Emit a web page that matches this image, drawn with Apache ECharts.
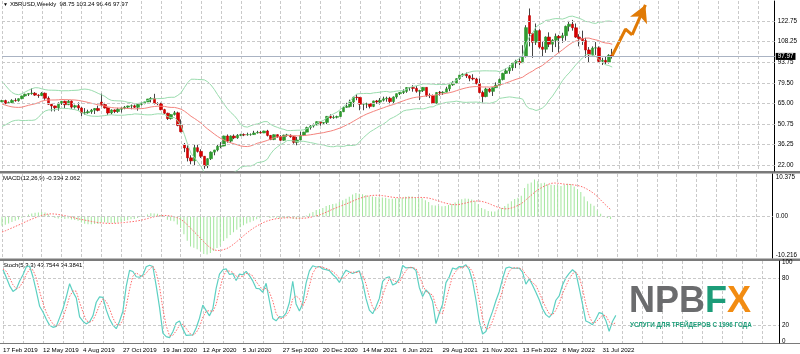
<!DOCTYPE html>
<html>
<head>
<meta charset="utf-8">
<script src="https://cdn.jsdelivr.net/npm/echarts@6/dist/echarts.min.js"></script>
<style>
html, body { margin: 0; padding: 0; background: #fff; }
#chart { width: 800px; height: 354px; }
</style>
</head>
<body>
<div id="chart"></div>
<script>
// weekly closes before the first visible bar, only used to warm up MA / bands / MACD / stoch
const historyCloses = [
  67.6, 69.9, 68.6, 70.5, 68.6, 62.8, 64.8, 67.3, 64.4, 65.5, 66.2, 70.5, 70.3, 67.1, 72.6,
  74.1, 74.6, 74.9, 77.1, 78.5, 76.4, 76.8, 76.5, 73.4, 75.6, 79.4, 77.1, 75.3, 73.1, 74.3,
  73.2, 72.8, 71.8, 75.8, 77.4, 76.8, 78.1, 78.8, 82.7, 84.2, 80.4, 79.8, 77.6, 72.8, 70.2,
  66.8, 58.8, 58.7, 61.7, 60.3, 53.8, 52.2, 57.1, 60.5, 62.7, 61.6, 62.8, 62.1, 66.3
];

// weekly bars from 17 Feb 2019: [open, close, low, high]
const bars = [
  [66.3, 67.1, 65.9, 67.6], [67.1, 65.1, 64.5, 67.7], [65.1, 65.7, 64.8, 66.4], [65.7, 67.2, 65.3, 68.0],
  [67.2, 67.0, 66.3, 68.7], [67.0, 68.4, 66.3, 68.6], [68.4, 70.3, 68.0, 70.5], [70.3, 71.5, 69.8, 71.9],
  [71.5, 72.0, 70.3, 72.2], [72.0, 72.2, 71.2, 75.6], [72.2, 70.9, 70.4, 73.0], [70.9, 70.6, 69.0, 71.5],
  [70.6, 72.2, 70.2, 73.0], [72.2, 68.7, 67.6, 72.7], [68.7, 64.5, 64.1, 70.0], [64.5, 63.3, 59.5, 64.6],
  [63.3, 62.0, 59.5, 63.5], [62.0, 65.2, 60.0, 65.8], [65.2, 66.6, 64.0, 66.8], [66.6, 64.2, 61.9, 67.0],
  [64.2, 66.7, 63.9, 67.5], [66.7, 62.5, 61.3, 67.2], [62.5, 63.5, 61.5, 64.2], [63.5, 61.9, 60.1, 65.8],
  [61.9, 58.5, 56.2, 62.5], [58.5, 58.6, 57.2, 61.8], [58.6, 59.3, 57.9, 60.7], [59.3, 60.4, 57.8, 61.2],
  [60.4, 61.5, 57.7, 61.8], [61.5, 60.2, 59.5, 63.5], [66.0, 64.3, 63.0, 71.9], [64.3, 61.9, 61.5, 65.5],
  [61.9, 58.4, 57.1, 62.2], [58.4, 60.5, 57.5, 60.9], [60.5, 59.4, 58.3, 60.9], [59.4, 61.0, 58.5, 62.0],
  [61.0, 61.7, 58.7, 62.3], [61.7, 62.5, 61.0, 63.3], [62.5, 63.3, 61.6, 63.5], [63.3, 63.4, 61.0, 64.3],
  [63.4, 62.4, 61.9, 64.3], [62.4, 64.4, 60.0, 64.6], [64.4, 65.2, 63.6, 65.6], [65.2, 66.1, 64.5, 66.4],
  [66.1, 68.2, 66.0, 68.2], [68.2, 68.6, 65.8, 69.5], [68.6, 65.0, 64.4, 71.8], [65.0, 64.9, 63.9, 65.9],
  [64.9, 60.7, 60.3, 65.6], [60.7, 58.2, 57.7, 61.3], [58.2, 54.5, 53.5, 58.6], [54.5, 57.3, 53.8, 57.5],
  [57.3, 58.5, 56.6, 59.8], [58.5, 49.7, 49.1, 59.3], [49.7, 45.3, 44.8, 53.9], [36.0, 33.9, 31.0, 37.4],
  [33.9, 27.0, 24.5, 35.8], [27.0, 24.9, 22.5, 28.8], [24.9, 34.1, 21.7, 36.3], [34.1, 31.5, 30.7, 36.2],
  [31.5, 28.1, 26.9, 33.0], [28.1, 21.4, 19.3, 28.3], [21.4, 26.4, 19.8, 26.7], [26.4, 31.0, 25.5, 31.5],
  [31.0, 32.5, 28.8, 32.6], [32.5, 35.1, 31.5, 36.4], [35.1, 35.3, 33.7, 38.0], [35.3, 42.3, 35.1, 42.5],
  [42.3, 38.7, 37.6, 43.4], [38.7, 42.2, 37.5, 42.7], [42.2, 41.0, 40.1, 43.4], [41.0, 42.8, 40.3, 43.6],
  [42.8, 43.2, 42.2, 43.8], [43.2, 43.1, 42.2, 44.1], [43.1, 43.3, 42.5, 44.6], [43.3, 43.3, 42.5, 44.1],
  [43.3, 44.4, 43.1, 45.9], [44.4, 44.8, 44.0, 45.9], [44.8, 44.4, 44.0, 45.9], [44.4, 45.8, 44.3, 46.0],
  [45.8, 42.7, 42.0, 46.6], [42.7, 39.8, 39.4, 43.0], [39.8, 43.2, 39.4, 43.4], [43.2, 41.9, 40.9, 43.4],
  [41.9, 39.3, 38.9, 42.9], [39.3, 42.9, 39.0, 43.2], [42.9, 42.9, 41.8, 43.8], [42.9, 41.8, 41.1, 43.4],
  [41.8, 37.9, 36.9, 42.1], [37.9, 39.5, 35.8, 41.6], [39.5, 42.8, 39.2, 45.3], [42.8, 45.0, 42.3, 45.2],
  [45.0, 48.2, 44.9, 48.8], [48.2, 49.3, 46.8, 49.9], [49.3, 50.0, 48.2, 51.0], [50.0, 52.3, 49.8, 52.5],
  [52.3, 51.3, 49.5, 52.3], [51.3, 51.8, 50.3, 51.9], [51.8, 56.0, 50.6, 56.3], [56.0, 55.1, 54.4, 57.4],
  [55.1, 55.4, 54.3, 56.7], [55.4, 55.9, 54.6, 56.5], [55.9, 59.3, 55.6, 59.8], [59.3, 62.4, 59.0, 62.8],
  [62.4, 62.9, 62.0, 65.5], [62.9, 66.1, 62.3, 67.7], [66.1, 69.4, 62.5, 69.8], [69.4, 69.2, 67.3, 71.4],
  [69.2, 64.5, 60.3, 69.6], [64.5, 64.6, 60.3, 65.5], [64.6, 64.9, 61.8, 65.6], [64.9, 63.0, 61.6, 65.0],
  [63.0, 66.8, 62.5, 67.0], [66.8, 66.1, 64.8, 67.5], [66.1, 67.3, 64.3, 68.8], [67.3, 68.3, 66.4, 69.8],
  [68.3, 68.7, 66.3, 69.8], [68.7, 66.4, 64.5, 69.7], [66.4, 69.6, 65.2, 70.0], [69.6, 71.9, 68.4, 72.0],
  [71.9, 72.7, 70.9, 73.0], [72.7, 73.5, 71.7, 74.9], [73.5, 76.2, 72.5, 76.4], [76.2, 76.2, 74.0, 76.5],
  [76.2, 75.6, 73.3, 77.8], [75.6, 73.6, 72.6, 77.2], [73.6, 74.1, 67.4, 74.6], [74.1, 76.3, 73.1, 76.5],
  [76.3, 70.7, 69.7, 76.3], [70.7, 70.6, 68.8, 72.1], [70.6, 65.2, 64.6, 71.3], [65.2, 72.7, 65.0, 72.9],
  [72.7, 72.6, 70.5, 73.8], [72.6, 72.9, 71.0, 73.6], [72.9, 75.3, 72.9, 76.7], [75.3, 78.1, 73.6, 78.2],
  [78.1, 79.3, 77.4, 80.8], [79.3, 82.4, 79.3, 82.6], [82.4, 84.9, 81.6, 85.1], [84.9, 85.5, 83.8, 86.1],
  [85.5, 84.4, 82.9, 86.7], [84.4, 82.7, 80.6, 85.0], [82.7, 82.2, 81.2, 85.5], [82.2, 78.9, 78.4, 83.0],
  [78.9, 72.7, 72.2, 82.5], [72.7, 69.9, 65.7, 74.0], [69.9, 75.2, 69.4, 76.1], [75.2, 73.5, 72.6, 75.9],
  [73.5, 76.1, 70.3, 76.3], [76.1, 77.8, 75.9, 79.8], [77.8, 81.8, 77.8, 82.5], [81.8, 86.1, 81.2, 86.5],
  [86.1, 87.9, 85.7, 89.5], [87.9, 90.0, 85.8, 91.7], [90.0, 93.3, 87.9, 93.7], [93.3, 94.4, 89.8, 95.6],
  [94.4, 93.5, 91.8, 97.0], [93.5, 97.9, 93.4, 105.8], [97.9, 118.1, 97.2, 119.8], [126.5, 114.0, 105.0, 131.5],
  [114.0, 107.9, 97.0, 114.5], [107.9, 116.0, 106.0, 121.0], [116.0, 104.5, 103.5, 117.0], [104.5, 103.0, 98.0, 108.5],
  [103.0, 111.5, 100.5, 112.0], [111.5, 106.5, 104.5, 114.8], [106.5, 109.3, 101.0, 110.0], [109.3, 112.0, 104.5, 114.0],
  [112.0, 111.0, 100.5, 113.0], [111.0, 112.5, 107.5, 114.5], [112.5, 119.0, 109.0, 119.5], [119.0, 120.5, 115.5, 122.8],
  [120.5, 118.0, 116.0, 123.5], [118.0, 111.5, 111.0, 121.0], [111.5, 110.5, 105.0, 113.5], [110.5, 109.0, 106.0, 116.0],
  [109.0, 102.5, 97.0, 111.0], [102.5, 99.0, 93.5, 104.5], [99.0, 103.8, 98.5, 105.0], [103.8, 104.0, 99.0, 108.0],
  [104.0, 94.5, 93.8, 105.0], [94.5, 95.2, 92.0, 97.0], [95.2, 94.0, 92.5, 98.0], [94.0, 98.75, 93.0, 99.5],
  [98.75, 97.97, 96.46, 103.24]
];

const dateLabels = [
  '17 Feb 2019', '12 May 2019', '4 Aug 2019', '27 Oct 2019', '19 Jan 2020', '12 Apr 2020',
  '5 Jul 2020', '27 Sep 2020', '20 Dec 2020', '14 Mar 2021', '6 Jun 2021', '29 Aug 2021',
  '21 Nov 2021', '13 Feb 2022', '8 May 2022', '31 Jul 2022'
];
const priceTicks = [22.00, 36.25, 50.75, 65.00, 79.50, 93.75, 108.25, 122.75];
const macdTicks = [-10.216, 0, 10.375];
const stochTicks = [0, 20, 80, 100];
const stochLevels = [20, 80];
// hand-drawn forecast arrow, [bar index, price]
const arrowPath = [[184, 98.5], [188, 117], [190, 113], [194, 134]];

const totalSlots = 234; // bars + empty space on the right
const FONT = 'Liberation Sans';

const cats = [];
const t0 = Date.UTC(2019, 1, 17);
for (let i = 0; i < totalSlots; i++) {
  cats.push(new Date(t0 + i * 7 * 864e5).toISOString().slice(0, 10));
}

// indicators
const closes = bars.map(b => b[1]);
const all = historyCloses.concat(closes);
const allHigh = historyCloses.concat(bars.map(b => b[3]));
const allLow = historyCloses.concat(bars.map(b => b[2]));
const off = historyCloses.length;

const bbMid = [], bbUp = [], bbLow = [];
for (let i = 0; i < bars.length; i++) {
  const j = off + i;
  let s = 0;
  for (let k = j - 19; k <= j; k++) s += all[k];
  const m = s / 20;
  let v = 0;
  for (let k = j - 19; k <= j; k++) v += (all[k] - m) * (all[k] - m);
  const sd = Math.sqrt(v / 20);
  bbMid.push(+m.toFixed(3));
  bbUp.push(+(m + 2 * sd).toFixed(3));
  bbLow.push(+(m - 2 * sd).toFixed(3));
}

function ema(arr, n) {
  const a = 2 / (n + 1);
  const out = [arr[0]];
  for (let i = 1; i < arr.length; i++) out.push(out[i - 1] + a * (arr[i] - out[i - 1]));
  return out;
}
const e12 = ema(all, 12), e26 = ema(all, 26);
const macdAll = all.map((c, i) => e12[i] - e26[i]);
const macdMain = [], macdSignal = [];
for (let i = 0; i < bars.length; i++) {
  const j = off + i;
  macdMain.push(+macdAll[j].toFixed(3));
  let s = 0;
  for (let k = j - 8; k <= j; k++) s += macdAll[k];
  macdSignal.push(+(s / 9).toFixed(3));
}

// stochastic 5,3,3 over history + visible bars
const kAll = [];
for (let j = 6; j < all.length; j++) {
  let num = 0, den = 0;
  for (let k = j - 2; k <= j; k++) {
    let hh = -Infinity, ll = Infinity;
    for (let q = k - 4; q <= k; q++) {
      hh = Math.max(hh, allHigh[q]);
      ll = Math.min(ll, allLow[q]);
    }
    num += all[k] - ll;
    den += hh - ll;
  }
  kAll[j] = den ? num / den * 100 : 50;
}
const stochMain = [], stochSignal = [];
for (let i = 0; i < bars.length; i++) {
  const j = off + i;
  stochMain.push(+kAll[j].toFixed(2));
  stochSignal.push(+((kAll[j] + kAll[j - 1] + kAll[j - 2]) / 3).toFixed(2));
}

const lastClose = closes[closes.length - 1];
const bodies = bars.map(b => [b[0], b[1], Math.min(b[0], b[1]), Math.max(b[0], b[1])]);

const dash = { color: '#c9c9c9', width: 1, type: [3, 2] };

function xAxisFor(gridIndex, withLabels) {
  return {
    type: 'category', gridIndex, data: cats, boundaryGap: false,
    axisLine: { show: false }, axisTick: { show: false },
    axisLabel: withLabels ? {
      show: true, interval: 11, align: 'left', margin: 4,
      fontFamily: FONT, fontSize: 6.2, color: '#000',
      formatter: (v, idx) => dateLabels[idx / 12] || ''
    } : { show: false },
    splitLine: { show: true, interval: 5, lineStyle: dash }
  };
}

function yAxisFor(gridIndex, min, max, ticks, fmt) {
  return {
    type: 'value', gridIndex, position: 'right', min, max, scale: true,
    axisLine: { show: true, lineStyle: { color: '#000', width: 1 } },
    axisTick: { show: false },
    splitLine: { show: false },
    axisLabel: {
      show: true, customValues: ticks, margin: 3,
      fontFamily: FONT, fontSize: 6.3, color: '#000', formatter: fmt
    }
  };
}

const option = {
  animation: false,
  backgroundColor: '#fff',
  grid: [
    { left: 2, right: 21, top: 1, height: 170 },
    { left: 2, right: 21, top: 174, height: 84 },
    { left: 2, right: 21, top: 261, height: 82 }
  ],
  xAxis: [xAxisFor(0, false), xAxisFor(1, false), xAxisFor(2, true)],
  yAxis: [
    yAxisFor(0, 17.8, 136.74, priceTicks, v => v.toFixed(2)),
    yAxisFor(1, -10.9, 11.16, macdTicks, v => (v === 0 ? '0.00' : String(v))),
    yAxisFor(2, -2.5, 102, stochTicks, v => String(v))
  ],
  series: [
    {
      name: 'bbUp', type: 'line', xAxisIndex: 0, yAxisIndex: 0, data: bbUp,
      showSymbol: false, silent: true, lineStyle: { color: '#9adcae', width: 1 }
    },
    {
      name: 'bbLow', type: 'line', xAxisIndex: 0, yAxisIndex: 0, data: bbLow,
      showSymbol: false, silent: true, lineStyle: { color: '#9adcae', width: 1 }
    },
    {
      name: 'ma', type: 'line', xAxisIndex: 0, yAxisIndex: 0, data: bbMid,
      showSymbol: false, silent: true, lineStyle: { color: '#f4837d', width: 1 }
    },
    {
      name: 'wicks', type: 'candlestick', xAxisIndex: 0, yAxisIndex: 0, data: bars,
      barWidth: 1, silent: true,
      itemStyle: { color: '#444', color0: '#444', borderColor: '#444', borderColor0: '#444', borderWidth: 1 }
    },
    {
      name: 'bodies', type: 'candlestick', xAxisIndex: 0, yAxisIndex: 0, data: bodies,
      barWidth: 3, silent: true,
      itemStyle: { color: '#2f9a2f', color0: '#d80000', borderColor: '#2f9a2f', borderColor0: '#c00000', borderWidth: 0.6 },
      markLine: {
        silent: true, symbol: ['none', 'none'], animation: false,
        label: { show: false },
        data: priceTicks.map(v => ({ yAxis: v, lineStyle: dash })).concat([{
          yAxis: lastClose,
          lineStyle: { color: '#aab3c3', width: 1, type: 'solid' },
          label: {
            show: true, position: 'end', distance: 1, formatter: lastClose.toFixed(2),
            backgroundColor: '#000', color: '#fff', padding: [1, 2, 0, 2],
            fontFamily: FONT, fontSize: 6.3
          }
        }])
      }
    },
    {
      name: 'arrow', type: 'line', xAxisIndex: 0, yAxisIndex: 0, data: arrowPath.slice(0, 3),
      showSymbol: false, silent: true, lineStyle: { color: '#e07a06', width: 3 },
      markLine: {
        silent: true, symbol: ['none', 'arrow'], symbolSize: [14, 17], animation: false,
        label: { show: false },
        lineStyle: { color: '#e07a06', width: 3, type: 'solid' },
        data: [[{ coord: arrowPath[2] }, { coord: arrowPath[3] }]]
      }
    },
    {
      name: 'macd', type: 'bar', xAxisIndex: 1, yAxisIndex: 1, data: macdMain,
      barWidth: 1, silent: true, itemStyle: { color: '#a3e69d' },
      markLine: {
        silent: true, symbol: ['none', 'none'], animation: false, label: { show: false },
        data: [{ yAxis: 0, lineStyle: dash }]
      }
    },
    {
      name: 'macdSignal', type: 'line', xAxisIndex: 1, yAxisIndex: 1, data: macdSignal,
      showSymbol: false, silent: true, lineStyle: { color: '#ff6a6a', width: 1, type: [1.5, 1.5] }
    },
    {
      name: 'stoch', type: 'line', xAxisIndex: 2, yAxisIndex: 2, data: stochMain,
      showSymbol: false, silent: true, lineStyle: { color: '#5dd0c2', width: 1.2 },
      markLine: {
        silent: true, symbol: ['none', 'none'], animation: false, label: { show: false },
        data: stochLevels.map(v => ({ yAxis: v, lineStyle: dash }))
      }
    },
    {
      name: 'stochSignal', type: 'line', xAxisIndex: 2, yAxisIndex: 2, data: stochSignal,
      showSymbol: false, silent: true, lineStyle: { color: '#ff6a6a', width: 1, type: [1.5, 1.5] }
    }
  ],
  graphic: [
    { type: 'rect', left: 0, top: 171, shape: { width: 800, height: 2.5 }, style: { fill: '#7a7a7a' }, silent: true },
    { type: 'rect', left: 0, top: 258.5, shape: { width: 800, height: 2.5 }, style: { fill: '#7a7a7a' }, silent: true },
    { type: 'rect', left: 0, top: 343, shape: { width: 800, height: 1 }, style: { fill: '#7a7a7a' }, silent: true },
    { type: 'text', left: 3, top: 2, style: { text: '▼', fontSize: 5, fill: '#000', fontFamily: FONT } },
    { type: 'text', left: 10, top: 1.5, style: { text: 'XBRUSD,Weekly  98.75 103.24 96.46 97.97', fontSize: 6, fill: '#000', fontFamily: FONT } },
    { type: 'text', left: 3, top: 175.5, style: { text: 'MACD(12,26,9) -0.334 2.062', fontSize: 6, fill: '#000', fontFamily: FONT } },
    { type: 'text', left: 3, top: 262.5, style: { text: 'Stoch(5,3,3) 43.7544 34.3841', fontSize: 6, fill: '#000', fontFamily: FONT } },
    {
      type: 'text', left: 629, top: 284, z: 50,
      style: {
        text: '{a|NPB}{b|F}{c|X}',
        rich: {
          a: { fontSize: 36, fontWeight: 'bold', fontFamily: FONT, fill: '#6b6c6e' },
          b: { fontSize: 36, fontWeight: 'bold', fontFamily: FONT, fill: '#1c9c78' },
          c: { fontSize: 36, fontWeight: 'bold', fontFamily: FONT, fill: '#f28c12' }
        }
      }
    },
    {
      type: 'text', left: 630, top: 322, z: 50,
      style: { text: 'УСЛУГИ ДЛЯ ТРЕЙДЕРОВ С 1996 ГОДА', fontSize: 6.3, fontWeight: 'bold', fill: '#1c9c78', fontFamily: FONT }
    }
  ]
};

const chart = echarts.init(document.getElementById('chart'));
chart.setOption(option);
</script>
</body>
</html>
